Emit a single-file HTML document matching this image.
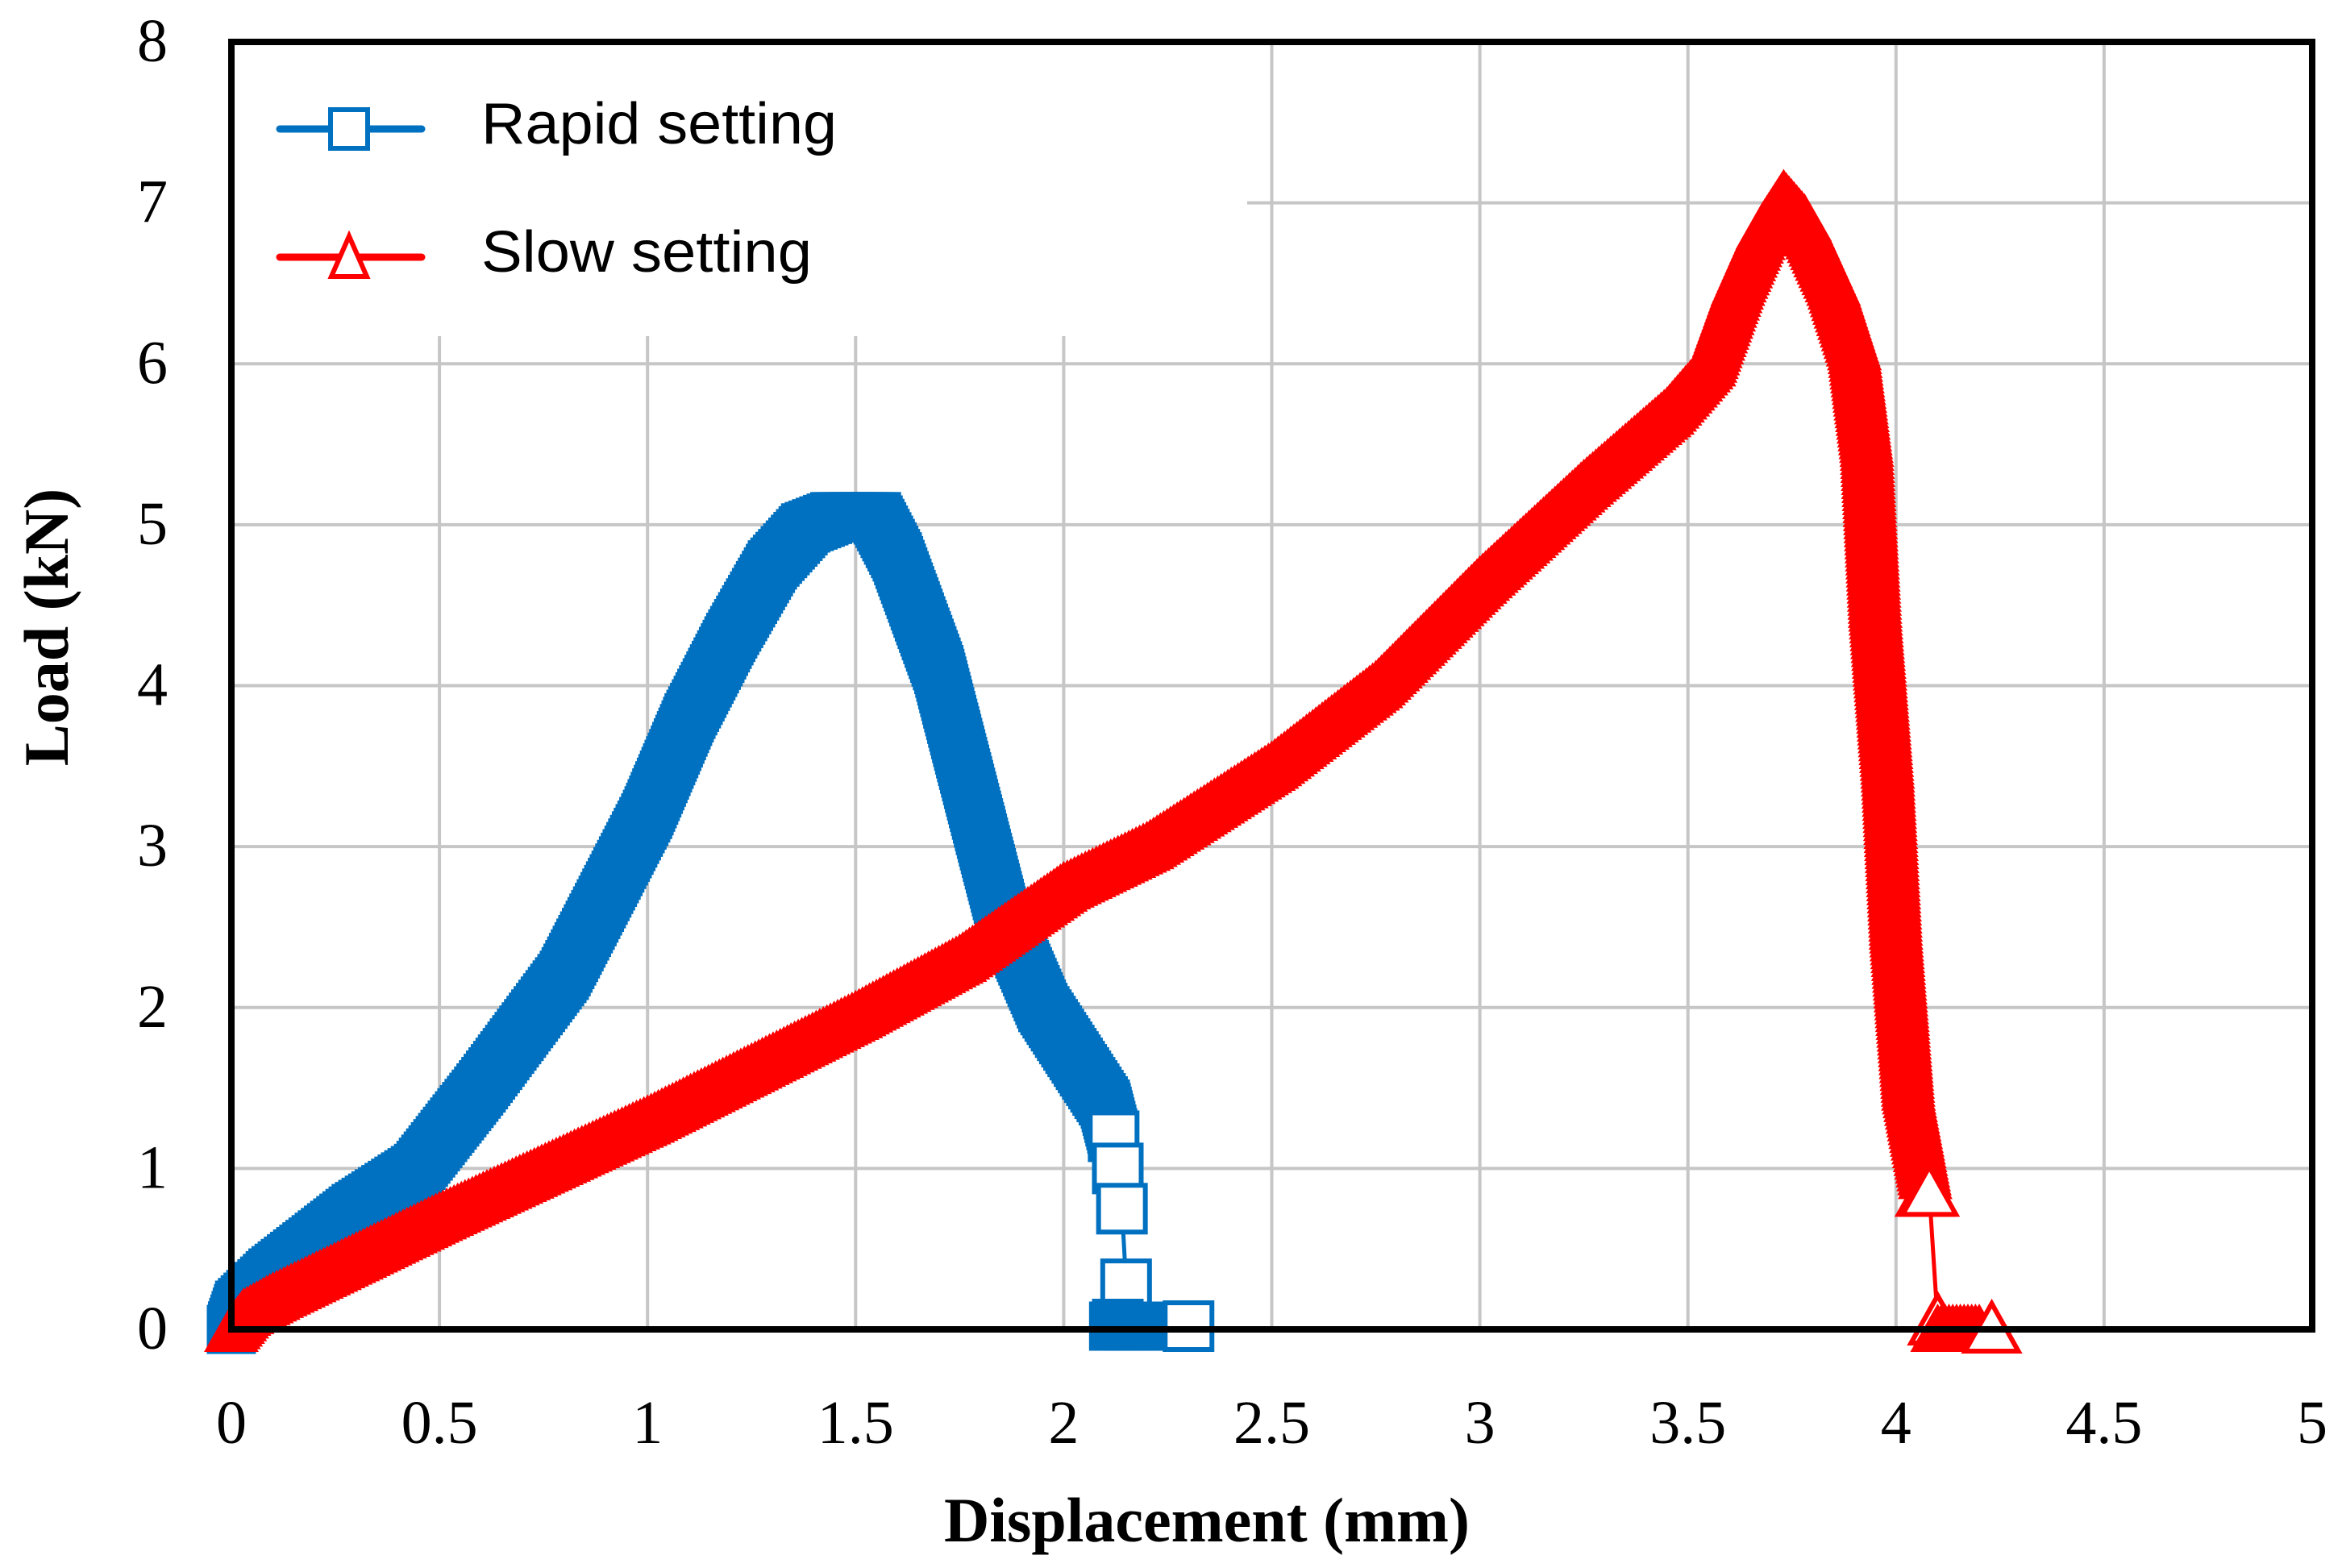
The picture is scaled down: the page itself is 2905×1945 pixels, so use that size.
<!DOCTYPE html>
<html><head><meta charset="utf-8">
<style>
html,body{margin:0;padding:0;background:#fff;}
svg{display:block;}
</style></head>
<body>
<svg id="chart" width="2905" height="1945" viewBox="0 0 2905 1945" xmlns="http://www.w3.org/2000/svg">
<g id="grid"></g>
<g id="legendbg"></g>
<g id="series"></g>
<g id="frame"></g>
<g id="ticks"></g>
<text x="1497" y="1912" text-anchor="middle" font-family="Liberation Serif, serif" font-weight="bold" font-size="78">Displacement (mm)</text>
<text transform="translate(84,778) rotate(-90)" text-anchor="middle" font-family="Liberation Serif, serif" font-weight="bold" font-size="78">Load (kN)</text>
<g id="legend"></g>
</svg>
<script>
const xTicks = [0,0.5,1,1.5,2,2.5,3,3.5,4,4.5,5];
const xTickLabels = ["0","0.5","1","1.5","2","2.5","3","3.5","4","4.5","5"];
const yTicks = [0,1,2,3,4,5,6,7,8];
const yTickLabels = ["0","1","2","3","4","5","6","7","8"];
// Rapid setting: dense band part
const rapidX = [0,0.02,0.1,0.3,0.45,0.6,0.8,1.0,1.1,1.2,1.3,1.38,1.45,1.55,1.6,1.7,1.8,1.85,1.95,2.05,2.1,2.12];
const rapidY = [0,0.15,0.35,0.75,1.0,1.5,2.2,3.2,3.8,4.3,4.75,4.98,5.05,5.05,4.8,4.1,3.1,2.6,2.0,1.6,1.4,1.2];
// Rapid setting: sparse tail points
const rapidTailX = [2.12,2.13,2.14,2.15,2.13,2.3];
const rapidTailY = [1.2,1.0,0.75,0.28,0.03,0.02];
// Rapid setting: dense cluster at zero load
const rapidBottomX = [2.12,2.2];
const rapidBottomY = [0.02,0.02];
// Slow setting: dense band part
const slowX = [0,0.03,0.1,0.3,0.5,1.0,1.5,1.75,2.0,2.2,2.5,2.75,3.0,3.25,3.45,3.55,3.62,3.68,3.73,3.78,3.85,3.9,3.93,3.95,3.98,4.0,4.03,4.07];
const slowY = [0,0.1,0.2,0.45,0.7,1.3,1.95,2.3,2.75,3.0,3.5,4.0,4.65,5.25,5.7,6.0,6.5,6.85,7.05,6.9,6.5,6.1,5.5,4.5,3.5,2.5,1.5,0.95];
// Slow setting: sparse tail points
const slowTailX = [4.07,4.08,4.1,4.23];
const slowTailY = [0.85,0.85,0.05,0.0];
// Slow setting: dense cluster at zero load
const slowBottomX = [4.1,4.2];
const slowBottomY = [0.0,0.0];

const L=287,R=2868,T=52,B=1649;
const xs=v=>L+(v-0)/(5-0)*(R-L);
const ys=v=>B-(v-0)/(8-0)*(B-T);
const NS="http://www.w3.org/2000/svg";
function mk(tag,attrs,parent){const e=document.createElementNS(NS,tag);for(const k in attrs)e.setAttribute(k,attrs[k]);parent.appendChild(e);return e;}

const grid=document.getElementById('grid');
xTicks.forEach((t,i)=>{
  const l=mk('line',{x1:xs(t),x2:xs(t),y1:T,y2:B,stroke:'#c6c6c6','stroke-width':4},grid);
  
  
});
yTicks.forEach((t,i)=>{
  const l=mk('line',{x1:L,x2:R,y1:ys(t),y2:ys(t),stroke:'#c6c6c6','stroke-width':4},grid);
  
  
});
const lbg=mk('rect',{x:L,y:T,width:1260,height:365,fill:'#fff'},document.getElementById('legendbg'));



const ser=document.getElementById('series');
function band(X,Y,color,shape,parent){
  const s=61;
  for(let i=0;i<X.length-1;i++){
    const x0=xs(X[i]),y0=ys(Y[i]),x1=xs(X[i+1]),y1=ys(Y[i+1]);
    const n=Math.max(1,Math.ceil(Math.hypot(x1-x0,y1-y0)/5));
    for(let k=0;k<=n;k++){
      const f=k/n,cx=x0+(x1-x0)*f,cy=y0+(y1-y0)*f;
      if(shape==='sq') mk('rect',{x:cx-s/2,y:cy-s/2,width:s,height:s,fill:color},parent);
      else mk('polygon',{points:`${cx},${cy-32} ${cx+34},${cy+28} ${cx-34},${cy+28}`,fill:color},parent);
    }
  }
}
function tail(X,Y,color,shape,parent){
  const pts=X.map((v,i)=>xs(v)+','+ys(Y[i])).join(' ');
  mk('polyline',{points:pts,fill:'none',stroke:color,'stroke-width':5},parent);
  X.forEach((v,i)=>{
    const cx=xs(v),cy=ys(Y[i]);
    let m;
    if(shape==='sq') m=mk('rect',{x:cx-29,y:cy-29,width:58,height:58,fill:'#fff',stroke:color,'stroke-width':6},parent);
    else m=mk('polygon',{points:`${cx},${cy-32} ${cx+33},${cy+27} ${cx-33},${cy+27}`,fill:'#fff',stroke:color,'stroke-width':6},parent);
    
    
  });
}
const gR=mk('g',{},ser);


band(rapidX,rapidY,'#0070c0','sq',gR);
tail(rapidTailX.slice(0,-1),rapidTailY.slice(0,-1),'#0070c0','sq',gR);
band(rapidBottomX,rapidBottomY,'#0070c0','sq',gR);
tail(rapidTailX.slice(-1),rapidTailY.slice(-1),'#0070c0','sq',gR);
const gS=mk('g',{},ser);


band(slowX,slowY,'#ff0000','tri',gS);
tail(slowTailX.slice(0,-1),slowTailY.slice(0,-1),'#ff0000','tri',gS);
band(slowBottomX,slowBottomY,'#ff0000','tri',gS);
tail(slowTailX.slice(-1),slowTailY.slice(-1),'#ff0000','tri',gS);

const fr=mk('rect',{x:L,y:T,width:R-L,height:B-T,fill:'none',stroke:'#000','stroke-width':8},document.getElementById('frame'));



const tk=document.getElementById('ticks');
xTicks.forEach((t,i)=>{
  const e=mk('text',{x:xs(t),y:1790,'text-anchor':'middle','font-family':'Liberation Serif, serif','font-size':76},tk);
  e.textContent=xTickLabels[i];
  
  
});
yTicks.forEach((t,i)=>{
  const e=mk('text',{x:208,y:ys(t)+24,'text-anchor':'end','font-family':'Liberation Serif, serif','font-size':76},tk);
  e.textContent=yTickLabels[i];
  
  
});

const lg=document.getElementById('legend');
[["Rapid setting",'#0070c0','sq',160],["Slow setting",'#ff0000','tri',319]].forEach(([name,c,sh,y])=>{
  const g=mk('g',{},lg);
  
  
  mk('line',{x1:347,x2:523,y1:y,y2:y,stroke:c,'stroke-width':9,'stroke-linecap':'round'},g);
  if(sh==='sq') mk('rect',{x:410,y:y-24,width:46,height:48,fill:'#fff',stroke:c,'stroke-width':6},g);
  else mk('polygon',{points:`433,${y-26} 455,${y+24} 411,${y+24}`,fill:'#fff',stroke:c,'stroke-width':6},g);
  const t=mk('text',{x:597,y:y+18,'font-family':'Liberation Sans, sans-serif','font-size':72,textLength:name==="Rapid setting"?441:410,lengthAdjust:'spacingAndGlyphs'},g);
  t.textContent=name;
});
</script>
</body></html>
